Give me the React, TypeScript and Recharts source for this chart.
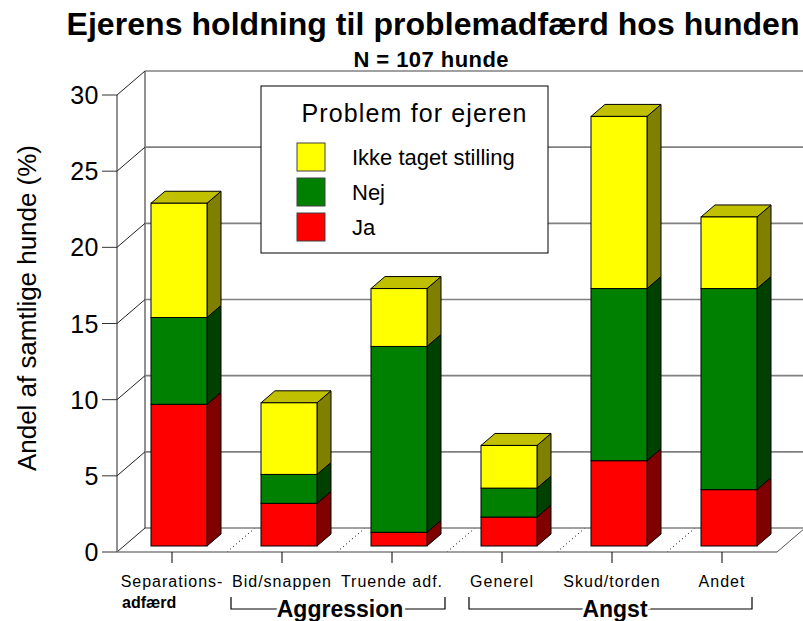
import React from "react";
import { Bar, BarChart, XAxis, YAxis } from "recharts";

const categories = [
  "Separations-",
  "Bid/snappen",
  "Truende adf.",
  "Generel",
  "Skud/torden",
  "Andet",
];
const categorySubLabels = ["adfærd", "", "", "", "", ""];

const jaValues = [9.3, 2.8, 0.9, 1.9, 5.6, 3.7];
const nejValues = [5.7, 1.9, 12.2, 1.9, 11.3, 13.2];
const ikkeValues = [7.5, 4.7, 3.8, 2.8, 11.3, 4.7];

const yTicks = [0, 5, 10, 15, 20, 25, 30];

const groups = [
  { name: "Aggression", first: 1, last: 2 },
  { name: "Angst", first: 3, last: 5 },
];

const seriesList = [
  { key: "ja", name: "Ja", front: "#FF0000", side: "#800000", top: "#C00000" },
  { key: "nej", name: "Nej", front: "#008000", side: "#004000", top: "#006000" },
  {
    key: "ikke",
    name: "Ikke taget stilling",
    front: "#FFFF00",
    side: "#808000",
    top: "#C0C000",
  },
];

const data = categories.map((category, i) => ({
  category,
  ja: jaValues[i],
  nej: nejValues[i],
  ikke: ikkeValues[i],
}));

// layout
const W = 803;
const H = 621;
const PLOT = { left: 124, right: 784, top: 89, bottom: 546 };
const X_AXIS_H = 60;
const Y_AXIS_W = 124;
const margin = {
  top: PLOT.top,
  right: W - PLOT.right,
  bottom: H - PLOT.bottom - X_AXIS_H,
  left: PLOT.left - Y_AXIS_W,
};
const BAND = (PLOT.right - PLOT.left) / categories.length;
// bars stand in the middle of the floor; front edge and back wall are offset from them
const FRONT = { dx: -7, dy: 6 };
const BACK = { dx: 21, dy: -18 };
const BAR_D = { dx: 14, dy: -12 };
const BRACKET_PAD = [
  [51, 53],
  [33, 30],
];

const FONT = "'Liberation Sans', Arial, sans-serif";
const GRID = "#808080";
const EDGE = "#222222";

function WallTick(props: any) {
  const { y, payload } = props;
  const fx = PLOT.left + FRONT.dx;
  const bx = PLOT.left + BACK.dx;
  const fy = y + FRONT.dy;
  const by = y + BACK.dy;
  const isBase = payload.value === 0;
  return (
    <g>
      <line x1={fx} y1={fy} x2={bx} y2={by} stroke={EDGE} strokeWidth={1} />
      <line x1={bx} y1={by} x2={W + 4} y2={by} stroke={GRID} strokeWidth={1.6} />
      {isBase && (
        <g>
          <line x1={fx} y1={PLOT.top + FRONT.dy} x2={fx} y2={fy} stroke={EDGE} />
          <line x1={bx} y1={PLOT.top + BACK.dy} x2={bx} y2={by} stroke={EDGE} />
          <line
            x1={fx}
            y1={fy}
            x2={PLOT.right + FRONT.dx}
            y2={fy}
            stroke={GRID}
            strokeWidth={1.6}
          />
          <line
            x1={PLOT.right + FRONT.dx}
            y1={fy}
            x2={PLOT.right + BACK.dx}
            y2={by}
            stroke="#555555"
          />
        </g>
      )}
    </g>
  );
}

function FloorTick(props: any) {
  const { x, payload } = props;
  if (payload.index === 0) return <g />;
  const edge = x - BAND / 2;
  return (
    <line
      x1={edge + FRONT.dx}
      y1={PLOT.bottom + FRONT.dy}
      x2={edge + BACK.dx}
      y2={PLOT.bottom + BACK.dy}
      stroke="#000"
      strokeDasharray="1 3"
    />
  );
}

function ValueTick(props: any) {
  const { y, payload } = props;
  const fx = PLOT.left + FRONT.dx;
  const fy = y + FRONT.dy;
  return (
    <g>
      <line x1={fx - 15} y1={fy} x2={fx} y2={fy} stroke="#333" />
      <text
        x={fx - 18}
        y={fy}
        dy="0.36em"
        textAnchor="end"
        fontSize={25}
        letterSpacing={0.5}
        fontFamily={FONT}
        fill="#000"
      >
        {payload.value}
      </text>
    </g>
  );
}

function CategoryTick(props: any) {
  const { x, payload } = props;
  const i = payload.index;
  const cx = x + FRONT.dx;
  const fy = PLOT.bottom + FRONT.dy;
  const sub = categorySubLabels[i];
  const gi = groups.findIndex((g) => g.first === i);
  let bracket = null;
  if (gi >= 0) {
    const g = groups[gi];
    const endX = cx + (g.last - g.first) * BAND;
    const left = cx - BRACKET_PAD[gi][0];
    const right = endX + BRACKET_PAD[gi][1];
    const ly = fy + 57;
    bracket = (
      <g>
        <polyline
          points={`${left},${fy + 45} ${left},${ly} ${right},${ly} ${right},${fy + 45}`}
          fill="none"
          stroke="#000"
          strokeWidth={1.2}
        />
        <text
          x={(cx + endX) / 2 + 3}
          y={fy + 65}
          textAnchor="middle"
          fontSize={23}
          fontWeight="bold"
          fontFamily={FONT}
          fill="#000"
          stroke="#fff"
          strokeWidth={6}
          paintOrder="stroke"
        >
          {g.name}
        </text>
      </g>
    );
  }
  return (
    <g>
      <line x1={cx} y1={fy} x2={cx} y2={fy + 11} stroke="#000" />
      <text
        x={cx}
        y={fy + 35}
        textAnchor="middle"
        fontSize={16}
        letterSpacing={1}
        fontFamily={FONT}
        fill="#000"
      >
        {payload.value}
      </text>
      {sub && (
        <text
          x={cx - 50}
          y={fy + 56}
          fontSize={16}
          fontWeight="bold"
          fontFamily={FONT}
          fill="#000"
        >
          {sub}
        </text>
      )}
      {bracket}
    </g>
  );
}

function Box3D(props: any) {
  const { x, y, width, height, series, showTop } = props;
  if (!height || height <= 0) return <g />;
  const r = x + width;
  const b = y + height;
  const side = `${r},${b} ${r + BAR_D.dx},${b + BAR_D.dy} ${r + BAR_D.dx},${y + BAR_D.dy} ${r},${y}`;
  const top = `${x},${y} ${x + BAR_D.dx},${y + BAR_D.dy} ${r + BAR_D.dx},${y + BAR_D.dy} ${r},${y}`;
  return (
    <g>
      <polygon points={side} fill={series.side} stroke="#000" strokeWidth={1} />
      {showTop && <polygon points={top} fill={series.top} stroke="#000" strokeWidth={1} />}
      <rect x={x} y={y} width={width} height={height} fill={series.front} stroke="#000" strokeWidth={1} />
    </g>
  );
}

const legendItems = [...seriesList].reverse();

export default function App() {
  return (
    <div
      style={{
        position: "absolute",
        left: 0,
        top: 0,
        width: W,
        height: H,
        background: "#fff",
        overflow: "hidden",
      }}
    >
      <div style={{ position: "absolute", left: 0, top: 0 }}>
        {/* back walls and floor, drawn behind the bars */}
        <BarChart width={W} height={H} data={data} margin={margin}>
          <XAxis
            dataKey="category"
            height={X_AXIS_H}
            axisLine={false}
            tickLine={false}
            interval={0}
            tick={(p: any) => <FloorTick {...p} />}
          />
          <YAxis
            type="number"
            width={Y_AXIS_W}
            domain={[0, 30]}
            ticks={yTicks}
            interval={0}
            axisLine={false}
            tickLine={false}
            tick={(p: any) => <WallTick {...p} />}
          />
          <Bar
            dataKey="ja"
            fill="none"
            legendType="none"
            isAnimationActive={false}
            shape={() => <g />}
          />
        </BarChart>
      </div>
      <div style={{ position: "absolute", left: 0, top: 0 }}>
        <BarChart width={W} height={H} data={data} margin={margin} barSize={56}>
          <XAxis
            dataKey="category"
            height={X_AXIS_H}
            axisLine={false}
            tickLine={false}
            interval={0}
            tick={(p: any) => <CategoryTick {...p} />}
          />
          <YAxis
            type="number"
            width={Y_AXIS_W}
            domain={[0, 30]}
            ticks={yTicks}
            interval={0}
            axisLine={false}
            tickLine={false}
            tick={(p: any) => <ValueTick {...p} />}
          />
          {seriesList.map((s, i) => (
            <Bar
              key={s.key}
              dataKey={s.key}
              name={s.name}
              stackId="stack"
              fill={s.front}
              isAnimationActive={false}
              shape={(p: any) => (
                <Box3D {...p} series={s} showTop={i === seriesList.length - 1} />
              )}
            />
          ))}
        </BarChart>
      </div>
      <svg
        width={W}
        height={H}
        style={{ position: "absolute", left: 0, top: 0, pointerEvents: "none" }}
        fontFamily={FONT}
      >
        <text x={433} y={35} textAnchor="middle" fontSize={32} fontWeight="bold" textLength={733}>
          Ejerens holdning til problemadfærd hos hunden
        </text>
        <text x={431} y={67} textAnchor="middle" fontSize={22} fontWeight="bold" textLength={155}>
          N = 107 hunde
        </text>
        <text
          transform="translate(36, 308) rotate(-90)"
          textAnchor="middle"
          fontSize={26}
          textLength={326}
        >
          Andel af samtlige hunde (%)
        </text>
        <rect x={261} y={86} width={287} height={167} fill="#fff" stroke="#000" strokeWidth={1} />
        <text x={414} y={122} textAnchor="middle" fontSize={25} textLength={225}>
          Problem for ejeren
        </text>
        {legendItems.map((s, i) => (
          <g key={s.key}>
            <rect
              x={297}
              y={143 + i * 35}
              width={28}
              height={28}
              fill={s.front}
              stroke="#404040"
              strokeWidth={1}
            />
            <text x={352} y={165 + i * 35} fontSize={22}>
              {s.name}
            </text>
          </g>
        ))}
      </svg>
    </div>
  );
}
